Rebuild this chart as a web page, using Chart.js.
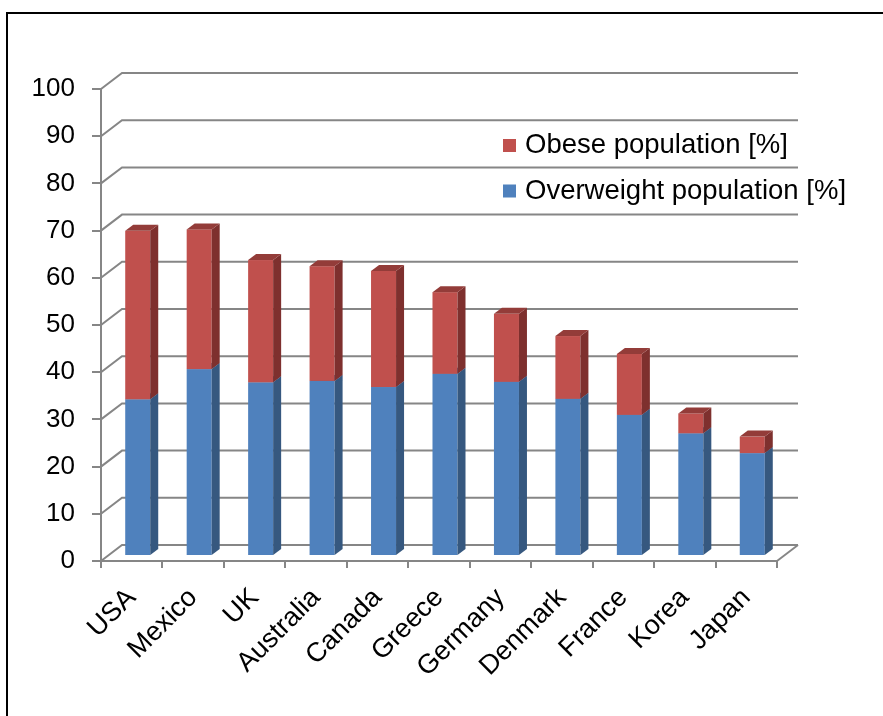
<!DOCTYPE html>
<html>
<head>
<meta charset="utf-8">
<script src="https://cdn.jsdelivr.net/npm/chart.js@4.4.1/dist/chart.umd.min.js"></script>
<style>
  html, body { margin: 0; padding: 0; background: #fff; }
  #wrap { position: relative; width: 883px; height: 716px; overflow: hidden; }
  #frame { position: absolute; left: 6px; top: 12px; right: -10px; bottom: -10px;
           border-top: 2px solid #000; border-left: 2px solid #000; }
  canvas { position: absolute; left: 0; top: 0; }
</style>
</head>
<body>
<div id="wrap">
  <div id="frame"></div>
  <canvas id="c" width="883" height="716"></canvas>
</div>
<script>
// Countries, sorted by total share of overweight + obese adults
const categories = ['USA', 'Mexico', 'UK', 'Australia', 'Canada', 'Greece',
                    'Germany', 'Denmark', 'France', 'Korea', 'Japan'];
// Overweight (not obese) share of the population, %
const overweight = [33.2, 39.6, 36.8, 37.1, 35.8, 38.6, 36.9, 33.3, 29.9, 26.0, 21.8];
// Obese share of the population, %
const obese      = [35.7, 29.6, 25.9, 24.3, 24.6, 17.3, 14.4, 13.3, 12.9, 4.2, 3.5];
// Value axis
const yMin = 0, yMax = 100, yStep = 10;
const seriesNames = ['Overweight population [%]', 'Obese population [%]'];

const FONT = '"Liberation Sans", Arial, Helvetica, sans-serif';
const GRID = '#868686';
const WALL = { dx: 21, dy: -16 };      // depth of the back wall
const BAR_OFF = { dx: 6, dy: -5 };     // bars sit a little behind the front edge
const BAR_DEPTH = { dx: 8, dy: -6 };   // thickness of each column

Chart.defaults.font.family = FONT;
Chart.defaults.color = '#000';

function poly(ctx, pts) {
  ctx.beginPath();
  ctx.moveTo(pts[0][0], pts[0][1]);
  for (let i = 1; i < pts.length; i++) ctx.lineTo(pts[i][0], pts[i][1]);
  ctx.closePath();
  ctx.fill();
}

// Back wall, floor and 3D columns
const box3d = {
  id: 'box3d',
  beforeDatasetsDraw(chart) {
    const { ctx, chartArea: a, scales: { x, y } } = chart;
    ctx.save();
    ctx.strokeStyle = GRID;
    ctx.lineWidth = 2;
    y.ticks.forEach(t => {
      const py = y.getPixelForValue(t.value);
      ctx.beginPath();
      ctx.moveTo(a.left, py);
      ctx.lineTo(a.left + WALL.dx, py + WALL.dy);
      ctx.lineTo(a.right + WALL.dx, py + WALL.dy);
      ctx.stroke();
    });
    const p0 = y.getPixelForValue(0);
    ctx.beginPath();
    ctx.moveTo(a.right, p0);
    ctx.lineTo(a.right + WALL.dx, p0 + WALL.dy);
    ctx.stroke();

    const metas = chart.getSortedVisibleDatasetMetas();
    for (let i = 0; i < categories.length; i++) {
      metas.forEach(meta => {
        const ds = chart.data.datasets[meta.index];
        const el = meta.data[i];
        const p = el.getProps(['x', 'y', 'base', 'width'], true);
        const l = p.x - p.width / 2 + BAR_OFF.dx;
        const r = p.x + p.width / 2 + BAR_OFF.dx;
        const t = Math.min(p.y, p.base) + BAR_OFF.dy;
        const b = Math.max(p.y, p.base) + BAR_OFF.dy;
        const dx = BAR_DEPTH.dx, dy = BAR_DEPTH.dy;
        ctx.fillStyle = ds.backgroundColor;
        ctx.fillRect(l, t, r - l, b - t);
        ctx.fillStyle = ds.sideColor;
        poly(ctx, [[r, t], [r + dx, t + dy], [r + dx, b + dy], [r, b]]);
        ctx.fillStyle = ds.topColor;
        poly(ctx, [[l, t], [r, t], [r + dx, t + dy], [l + dx, t + dy]]);
      });
    }
    ctx.restore();
    return false;
  }
};

// Legend inside the plot, obese entry on top
const legendBox = {
  id: 'legendBox',
  afterDraw(chart) {
    const { ctx } = chart;
    const items = chart.data.datasets.slice().reverse();
    ctx.save();
    ctx.font = '27.5px ' + FONT;
    ctx.textBaseline = 'alphabetic';
    ctx.textAlign = 'left';
    items.forEach((ds, k) => {
      const base = 153 + k * 45.5;
      ctx.fillStyle = ds.backgroundColor;
      ctx.fillRect(503, base - 14, 13, 13);
      ctx.fillStyle = '#000';
      ctx.fillText(ds.label, 525, base);
    });
    ctx.restore();
  }
};

new Chart(document.getElementById('c'), {
  type: 'bar',
  data: {
    labels: categories,
    datasets: [
      { label: seriesNames[0], data: overweight, backgroundColor: '#4F81BD',
        sideColor: '#36587F', topColor: '#41699A' },
      { label: seriesNames[1], data: obese, backgroundColor: '#C0504D',
        sideColor: '#7E302E', topColor: '#933C39' }
    ]
  },
  options: {
    responsive: false,
    animation: false,
    devicePixelRatio: 1,
    categoryPercentage: 1,
    barPercentage: 0.407,
    layout: { padding: { top: 89, right: 106, left: 0, bottom: 0 } },
    plugins: { legend: { display: false }, tooltip: { enabled: false } },
    scales: {
      x: {
        stacked: true,
        offset: true,
        afterFit(s) { s.height = 155; },
        grid: { offset: true, drawOnChartArea: false, drawTicks: true, tickLength: 7,
                color: GRID, lineWidth: 2 },
        border: { display: true, color: GRID, width: 2 },
        ticks: { autoSkip: false, maxRotation: 45, minRotation: 45, padding: 14,
                 font: { size: 27 }, color: '#000' }
      },
      y: {
        stacked: true,
        min: yMin, max: yMax,
        afterFit(s) { s.width = 101; },
        grid: { drawOnChartArea: false, drawTicks: true, tickLength: 9,
                color: GRID, lineWidth: 2 },
        border: { display: true, color: GRID, width: 2 },
        ticks: { stepSize: yStep, padding: 17, font: { size: 26 }, color: '#000' }
      }
    }
  },
  plugins: [box3d, legendBox]
});
</script>
</body>
</html>
